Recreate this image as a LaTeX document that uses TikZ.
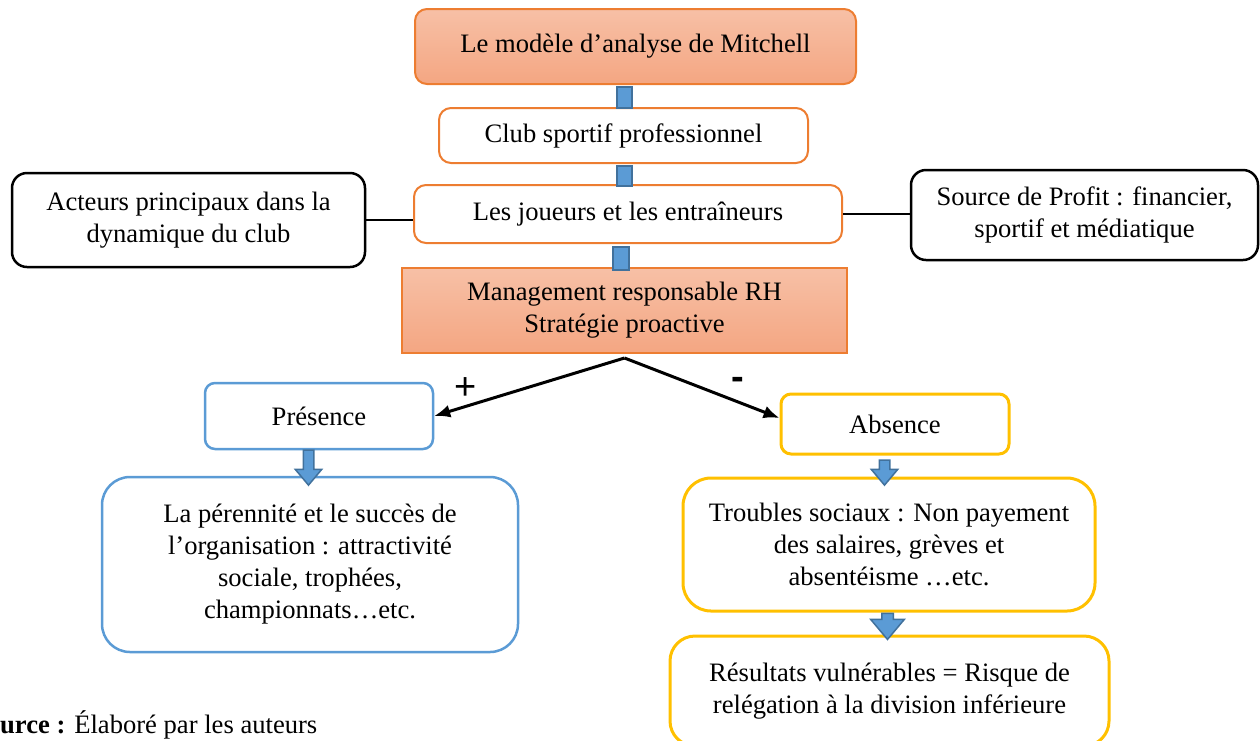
\documentclass[tikz,border=0pt]{standalone}
\usepackage{fontspec}
\setmainfont{Liberation Serif}
\newfontfamily\signfont{Liberation Sans}
\usetikzlibrary{arrows.meta, shapes.arrows, calc}
\definecolor{peachtop}{HTML}{F7C0A6}
\definecolor{peachbot}{HTML}{F4A682}
\definecolor{orangeline}{HTML}{ED7D31}
\definecolor{blueline}{HTML}{5B9BD5}
\definecolor{bluedark}{HTML}{41719C}
\definecolor{goldline}{HTML}{FFC000}

\begin{document}
\begin{tikzpicture}[x=1pt, y=-1pt,
  every node/.style={font=\fontsize{26.6}{32}\selectfont, align=center, inner sep=0pt},
  box/.style={draw, rounded corners=12pt, line width=2pt},
  peach/.style={box, draw=orangeline, top color=peachtop, bottom color=peachbot},
  orbox/.style={box, draw=orangeline, fill=white},
  blbox/.style={box, draw=blueline, line width=2.5pt},
  gdbox/.style={box, draw=goldline, line width=3pt},
  bkbox/.style={box, draw=black, line width=2.5pt, rounded corners=15pt},
  link/.style={draw=bluedark, fill=blueline, line width=1.5pt,
               minimum width=15pt, minimum height=21pt},
  blockarr/.style={single arrow, draw=bluedark, fill=blueline, line width=1.5pt,
                   shape border rotate=270, single arrow tip angle=80,
                   single arrow head extend=8pt, inner sep=4.5pt, minimum height=35pt},
  arr/.style={-{Latex[length=16pt, width=13pt]}, line width=3pt},
  sign/.style={font=\signfont\fontsize{38}{38}\selectfont}
]
  \useasboundingbox (0,0) rectangle (1260,740);

  % central column
  \node[peach, minimum width=441pt, minimum height=75pt] (mitchell) at (635.5,46.5)
       {Le modèle d’analyse de Mitchell};
  \node[orbox, minimum width=369pt, minimum height=55pt] (club) at (623.5,135.5)
       {Club sportif professionnel};
  \node[orbox, minimum width=428pt, minimum height=58pt] (joueurs) at (628,214)
       {Les joueurs et les entraîneurs};
  \node[peach, sharp corners, minimum width=445pt, minimum height=85pt] (mgmt) at (624.5,310.5)
       {Management responsable RH\\Stratégie proactive};

  % side boxes
  \node[bkbox, minimum width=353pt, minimum height=94pt] (acteurs) at (188.5,220)
       {Acteurs principaux dans la\\dynamique du club};
  \node[bkbox, minimum width=347pt, minimum height=90pt] (profit) at (1084.5,215)
       {Source de Profit : financier,\\sportif et médiatique};

  % two branches
  \node[blbox, rounded corners=10pt, minimum width=228pt, minimum height=66pt] (presence) at (319,416)
       {Présence};
  \node[gdbox, rounded corners=10pt, minimum width=228pt, minimum height=60pt] (absence) at (895,424)
       {Absence};
  \node[blbox, rounded corners=28pt, minimum width=416pt, minimum height=175pt] (perennite) at (310,564.5)
       {La pérennité et le succès de\\l’organisation : attractivité\\sociale, trophées,\\championnats…etc.};
  \node[gdbox, rounded corners=28pt, minimum width=412pt, minimum height=133pt] (troubles) at (889,544.5)
       {Troubles sociaux : Non payement\\des salaires, grèves et\\absentéisme …etc.};
  \node[gdbox, rounded corners=25pt, minimum width=439pt, minimum height=110pt] (resultats) at (889.5,691)
       {Résultats vulnérables = Risque de\\relégation à la division inférieure};

  % links
  \node[link] (l1) at (624.5,97.5) {};
  \node[link, minimum height=20pt] (l2) at (624.5,176) {};
  \node[link, minimum width=16pt, minimum height=23pt] (l3) at (621,258.5) {};
  \node[blockarr] (a1) at (308.5,464.5) {};
  \node[blockarr, minimum height=25pt] (a2) at (884.5,469.5) {};
  \node[blockarr, minimum height=26pt, single arrow head extend=11pt, inner sep=5pt] (a3) at (887.5,623) {};

  \draw[line width=2.5pt] (acteurs.east) -- (acteurs.east -| joueurs.west);
  \draw[line width=2.5pt] (joueurs.east) -- (joueurs.east -| profit.west);

  \coordinate (fork) at ($(mgmt.south)+(0,4)$);
  \draw[arr] (fork) -- (presence.east);
  \draw[arr] (fork) -- ($(absence.west)+(0,-6)$);
  \node[sign] (plus) at (466,389) {+};
  \node[sign, font=\signfont\bfseries\fontsize{38}{38}\selectfont] (minus) at (738,383) {-};

  \node[anchor=base west] (source) at (0,733) {\textbf{urce :} Élaboré par les auteurs};
\end{tikzpicture}
\end{document}
